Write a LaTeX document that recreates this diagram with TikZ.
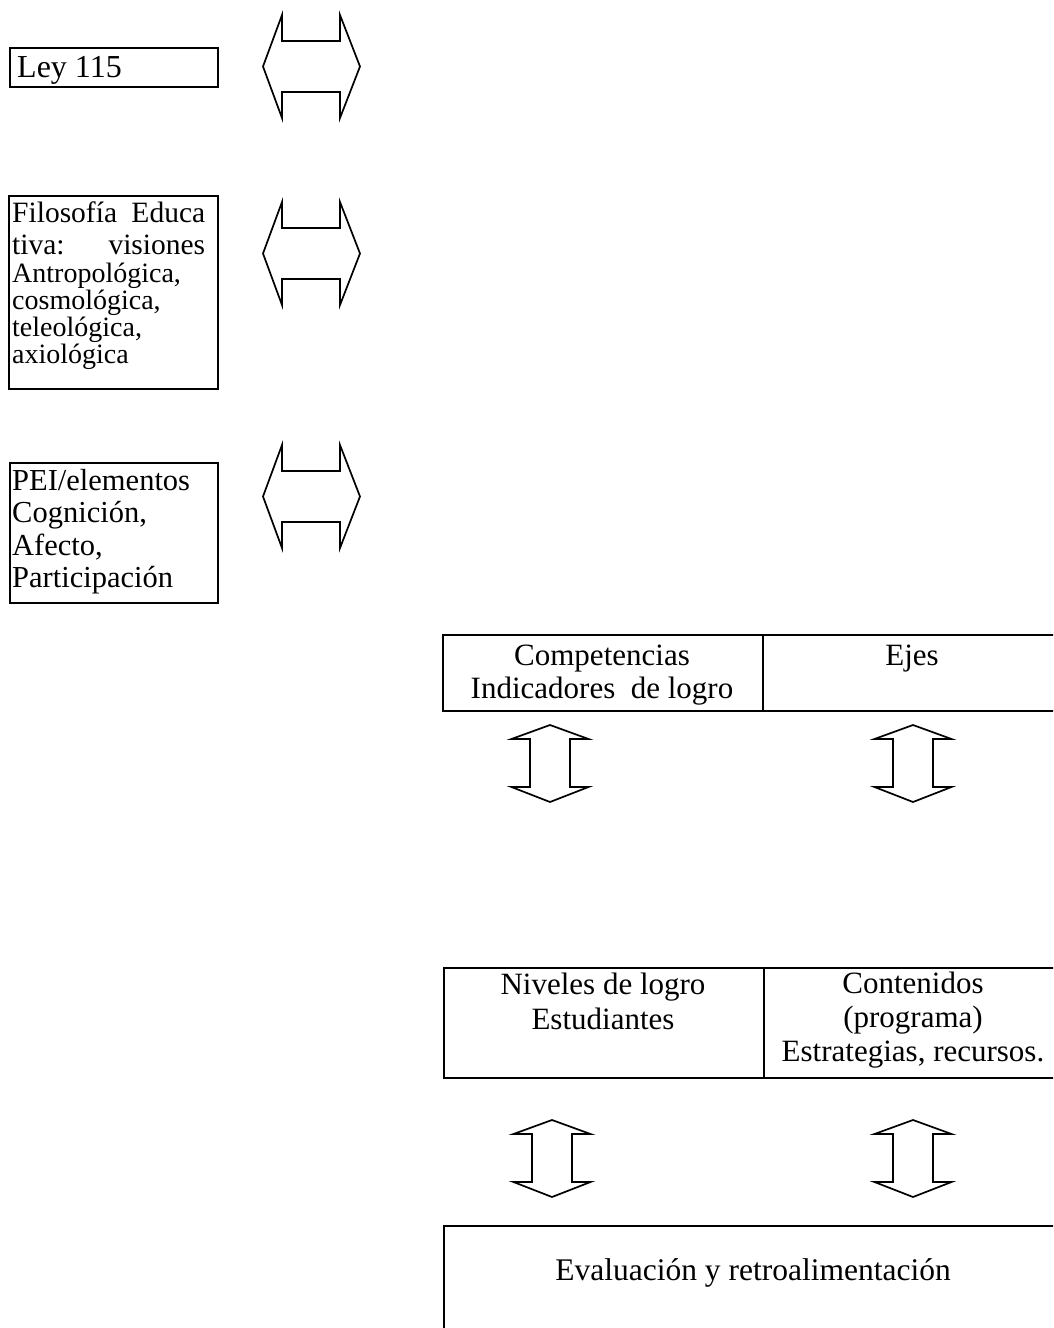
\documentclass[tikz,border=0pt]{standalone}
\usepackage{fontspec}
\setmainfont{Liberation Serif}
\begin{document}
\begin{tikzpicture}[x=1pt,y=-1pt,
  box/.style={draw, line width=1.7pt, inner sep=0pt, anchor=north west},
  txt/.style={inner sep=0pt, font=\fontsize{31.5}{33}\selectfont},
  ltxt/.style={inner sep=0pt, anchor=north west, align=left},
  ctxt/.style={inner sep=0pt, anchor=north, align=center, font=\fontsize{31}{33}\selectfont},
  arr/.style={draw, line width=1.7pt, line join=miter},
  hdbl/.pic={\path[arr] (0,0) -- (19,-51.5) -- (19,-25.5) -- (77,-25.5) -- (77,-51.5) -- (97,0)
      -- (77,51.5) -- (77,25.5) -- (19,25.5) -- (19,51.5) -- cycle;},
  vdbl/.pic={\path[arr] (0,0) -- (38.5,14) -- (20,14) -- (20,62) -- (38.5,62) -- (0,77)
      -- (-38.5,62) -- (-20,62) -- (-20,14) -- (-38.5,14) -- cycle;}
]
\useasboundingbox (0,0) rectangle (1053,1328);
\clip (0,0) rectangle (1053,1328);

% left column
\node[box, minimum width=208pt, minimum height=39pt] (ley) at (9,47) {};
\node[txt, font=\fontsize{32}{33}\selectfont, anchor=base west] (leyt) at (17,77) {Ley 115};

\node[box, minimum width=209pt, minimum height=193pt] (fil) at (8,195) {};
\node[ltxt, font=\fontsize{28}{27}\selectfont] (filt) at (12,202) {%
  {\fontsize{29.5}{27}\selectfont\makebox[193pt][s]{Filosofía Educa}}\\[5pt]
  {\fontsize{29.5}{27}\selectfont\makebox[193pt][s]{tiva: visiones}}\\[1pt]
  Antropológica,\\ cosmológica,\\ teleológica,\\ axiológica};

\node[box, minimum width=208pt, minimum height=140pt] (pei) at (9,462) {};
\node[ltxt, font=\fontsize{30.5}{32.5}\selectfont] (peit) at (12,469) {%
  PEI/elementos\\ Cognición,\\ Afecto,\\ Participación};

% horizontal double arrows
\pic at (263,66.5) {hdbl};
\pic at (263,253.5) {hdbl};
\pic at (263,496.5) {hdbl};

% upper table
\node[box, minimum width=320pt, minimum height=76pt] (comp) at (442,634) {};
\node[box, minimum width=320pt, minimum height=76pt] (ejes) at (762,634) {};
\node[ctxt] (compt) at (602,645) {Competencias\\Indicadores\ \ de logro};
\node[ctxt] (ejest) at (912,645) {Ejes};

\pic at (550,725) {vdbl};
\pic at (913,725) {vdbl};

% lower table
\node[box, minimum width=320pt, minimum height=110pt] (niv) at (443,967) {};
\node[box, minimum width=320pt, minimum height=110pt] (cont) at (763,967) {};
\node[ctxt, font=\fontsize{31}{35}\selectfont] (nivt) at (603,973) {Niveles de logro\\Estudiantes};
\node[ctxt, font=\fontsize{31}{34}\selectfont] (contt) at (913,972) {Contenidos\\(programa)\\Estrategias, recursos.};

\pic at (552,1120) {vdbl};
\pic at (913,1120) {vdbl};

% evaluation box
\node[box, minimum width=640pt, minimum height=140pt] (eval) at (443,1225) {};
\node[txt, anchor=base] (evalt) at (753,1280) {Evaluación y retroalimentación};
\end{tikzpicture}
\end{document}
